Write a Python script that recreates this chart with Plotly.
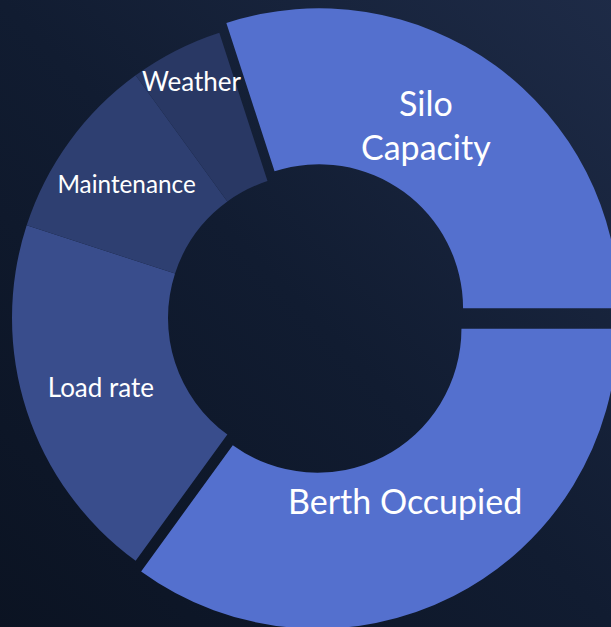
import base64
import math
import plotly.graph_objects as go

# ---- data ----
categories = ["Silo Capacity", "Berth Occupied", "Load rate", "Maintenance", "Weather"]
display_text = ["Silo<br>Capacity", "Berth Occupied", "Load rate", "Maintenance", "Weather"]
values = [30, 35, 20, 10, 5]
annotated_labels = ["Silo Capacity", "Berth Occupied", "Weather"]

# ---- styles ----
colors = ["#5470CE", "#5470CE", "#394D8C", "#2E3F71", "#293864"]
pulls = [0.04, 0.04, 0, 0, 0]
text_sizes = [34, 34, 26, 26, 26]
label_radius_frac = {"Silo Capacity": 0.71, "Berth Occupied": 0.643, "Weather": 0.887}
label_angle_offset = {"Silo Capacity": -5.9, "Berth Occupied": 0.0, "Weather": 0.0}
ROTATION = -18
HOLE = 0.48
W, H = 624, 636

svg = """<svg xmlns='http://www.w3.org/2000/svg' width='624' height='636'>
<defs><linearGradient id='g' x1='0' y1='1' x2='1' y2='0'>
<stop offset='0' stop-color='#0b1322'/>
<stop offset='0.5' stop-color='#111c31'/>
<stop offset='1' stop-color='#1e2b47'/>
</linearGradient></defs>
<rect width='624' height='636' fill='url(#g)'/></svg>"""
bg_uri = "data:image/svg+xml;base64," + base64.b64encode(svg.encode()).decode()

# slice text: native for the unannotated slices, blank where an annotation is used
slice_text = ["" if c in annotated_labels else t for c, t in zip(categories, display_text)]

fig = go.Figure(
    go.Pie(
        labels=categories,
        values=values,
        text=slice_text,
        textinfo="text",
        textposition="inside",
        insidetextorientation="horizontal",
        insidetextfont=dict(family="Lato", size=text_sizes, color="white"),
        hole=HOLE,
        pull=pulls,
        sort=False,
        direction="clockwise",
        rotation=ROTATION,
        marker=dict(colors=colors, line=dict(width=0)),
        showlegend=False,
        hoverinfo="label+value",
    )
)

# labels placed relative to their slice's mid-angle (angles derived from the data)
total = sum(values)
R = min(W, H) / 2 / (1 + max(pulls))
for name in annotated_labels:
    idx = categories.index(name)
    cum = sum(values[:idx]) + values[idx] / 2
    mid = math.radians(ROTATION + 360 * cum / total)
    ang = mid + math.radians(label_angle_offset[name])
    dist = R * label_radius_frac[name]
    pull_px = R * pulls[idx]
    px = W / 2 + dist * math.sin(ang) + pull_px * math.sin(mid)
    py = H / 2 - dist * math.cos(ang) - pull_px * math.cos(mid)
    fig.add_annotation(
        text=display_text[idx], x=px / W, y=1 - py / H, xref="paper", yref="paper",
        showarrow=False, xanchor="center", yanchor="middle",
        font=dict(family="Lato", size=text_sizes[idx], color="white"),
    )

fig.update_layout(
    width=W,
    height=H,
    margin=dict(l=0, r=0, t=0, b=0),
    paper_bgcolor="#121c31",
    plot_bgcolor="#121c31",
    images=[dict(source=bg_uri, xref="paper", yref="paper", x=0, y=1,
                 sizex=1, sizey=1, sizing="stretch", layer="below")],
)

fig.write_html(
    "out.html",
    config={"displayModeBar": False},
    post_script="document.body.style.margin='0';document.body.style.overflow='hidden';document.documentElement.style.overflow='hidden';",
)
